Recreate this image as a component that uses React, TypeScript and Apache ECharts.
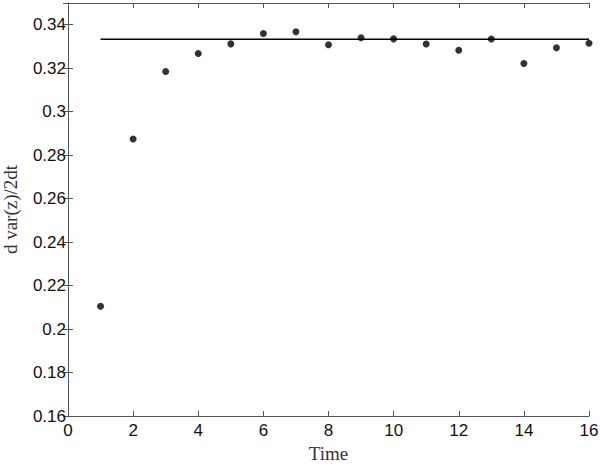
import React, { useEffect, useRef } from "react";
import * as echarts from "echarts";

const timeValues = [1, 2, 3, 4, 5, 6, 7, 8, 9, 10, 11, 12, 13, 14, 15, 16];
const rateValues = [
  0.2105, 0.2874, 0.3185, 0.3268, 0.3312, 0.336, 0.3368, 0.3308, 0.334, 0.3335,
  0.3311, 0.3283, 0.3334, 0.3222, 0.3294, 0.3315,
];
const theoryX = [1, 16];
const theoryLevel = 0.3333;

const xTicks = { min: 0, max: 16, interval: 2 };
const yTicks = { min: 0.16, max: 0.35, interval: 0.02 };

export default function App() {
  const ref = useRef<HTMLDivElement>(null);
  useEffect(() => {
    if (!ref.current) return;
    document.body.style.margin = "0";
    const chart = echarts.init(ref.current, null, { renderer: "svg" });
    const axisColor = "#555";
    const tickFont = { fontFamily: "Liberation Sans, Arial, sans-serif", fontSize: 17, color: "#111" };
    const nameFont = { fontFamily: "Liberation Serif, serif", fontSize: 19, color: "#333" };
    const baseAxisLine = { show: true, lineStyle: { color: axisColor, width: 1 } };
    const baseTick = { show: true, inside: true, length: 5, lineStyle: { color: axisColor } };
    chart.setOption({
      animation: false,
      backgroundColor: "#fff",
      grid: { left: 68, right: 11, top: 3, bottom: 50, containLabel: false, outerBoundsMode: "none" },
      xAxis: [
        {
          type: "value",
          min: xTicks.min,
          max: xTicks.max,
          interval: xTicks.interval,
          position: "bottom",
          name: "Time",
          nameLocation: "middle",
          nameGap: 28,
          nameTextStyle: nameFont,
          axisLine: baseAxisLine,
          axisTick: baseTick,
          splitLine: { show: false },
          axisLabel: { ...tickFont, margin: 6 },
        },
        {
          type: "value",
          min: xTicks.min,
          max: xTicks.max,
          interval: xTicks.interval,
          position: "top",
          axisLine: baseAxisLine,
          axisTick: baseTick,
          splitLine: { show: false },
          axisLabel: { show: false },
        },
      ],
      yAxis: [
        {
          type: "value",
          min: yTicks.min,
          max: yTicks.max,
          interval: yTicks.interval,
          position: "left",
          name: "d var(z)/2dt",
          nameLocation: "middle",
          nameGap: 48,
          nameTextStyle: nameFont,
          axisLine: baseAxisLine,
          axisTick: baseTick,
          splitLine: { show: false },
          axisLabel: {
            ...tickFont,
            margin: 2,
            formatter: (v: number) => (v > 0.345 ? "" : String(parseFloat(v.toFixed(2)))),
          },
        },
        {
          type: "value",
          min: yTicks.min,
          max: yTicks.max,
          interval: yTicks.interval,
          position: "right",
          axisLine: baseAxisLine,
          axisTick: baseTick,
          splitLine: { show: false },
          axisLabel: { show: false },
        },
      ],
      series: [
        {
          type: "line",
          xAxisIndex: 0,
          yAxisIndex: 0,
          data: theoryX.map((x) => [x, theoryLevel]),
          showSymbol: false,
          symbol: "none",
          lineStyle: { color: "#000", width: 1.5 },
          z: 2,
        },
        {
          type: "scatter",
          xAxisIndex: 0,
          yAxisIndex: 0,
          data: timeValues.map((t, i) => [t, rateValues[i]]),
          symbol: "circle",
          symbolSize: 7,
          itemStyle: { color: "#000" },
          clip: false,
          z: 3,
        },
      ],
    });
    return () => chart.dispose();
  }, []);
  return <div ref={ref} style={{ width: 600, height: 466 }} />;
}
